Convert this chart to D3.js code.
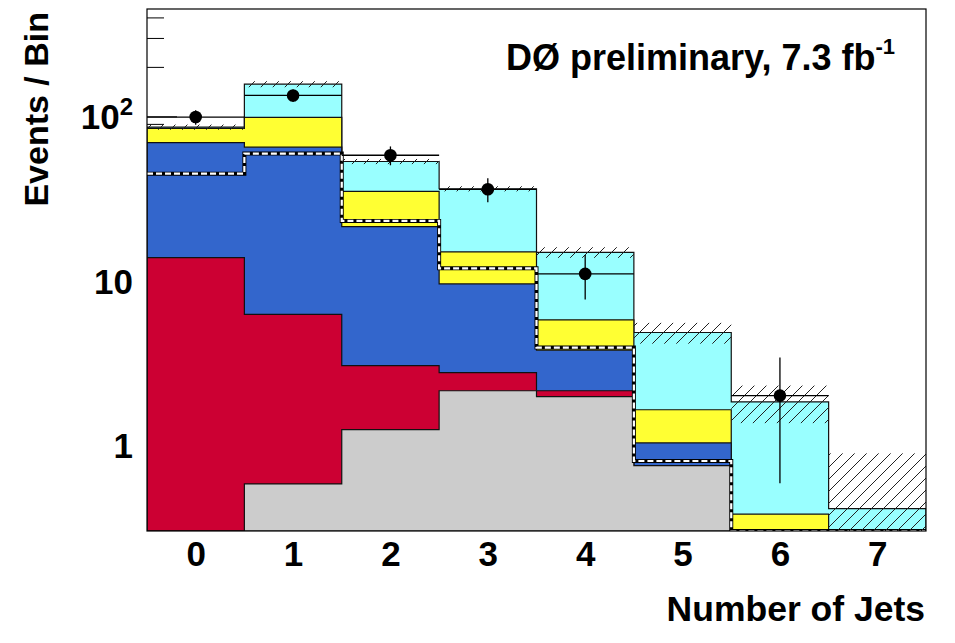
<!DOCTYPE html>
<html>
<head>
<meta charset="utf-8">
<style>
body { margin: 0; background: #fff; }
svg { display: block; font-family: "Liberation Sans", Arial, Helvetica, sans-serif; font-weight: bold; }
</style>
</head>
<body>
<svg width="955" height="643"></svg>
<script src="https://d3js.org/d3.v7.min.js"></script>
<script>
// number of jets (bin centres)
var jetBins = [0, 1, 2, 3, 4, 5, 6, 7];
var jetLabels = ["0", "1", "2", "3", "4", "5", "6", "7"];
// backgrounds, events per bin (stack order bottom -> top)
var grayBkg   = [0, 0.58, 1.24, 2.14, 1.97, 0.75, 0, 0];
var redBkg    = [13.8, 5.66, 1.8, 0.62, 0.17, 0, 0, 0];
var blueBkg   = [55.5, 58.7, 18.3, 6.8, 1.64, 0.28, 0, 0];
var yellowBkg = [15.2, 33.7, 13.6, 5.4, 2.0, 0.61, 0.38, 0];
var cyanBkg   = [1.5, 58.4, 18.2, 21.3, 9.1, 3.2, 1.45, 0.41];
// uncertainty on the total prediction (hatched band)
var totalErr  = [3.1, 6.6, 1.9, 1.3, 1.1, 0.7, 0.47, 0.48];
// dashed outline histogram
var dashedHist = [44.8, 59.4, 23.1, 11.9, 3.92, 0.8, 0, 0];
// observed events
var dataCounts = [99, 134, 58, 36, 11, 0, 2, 0];
// y axis
var yMajorTicks = [1, 10, 100];
var yMinorTicks = [0.4, 0.5, 0.6, 0.7, 0.8, 0.9, 2, 3, 4, 5, 6, 7, 8, 9, 20, 30, 40, 50, 60, 70, 80, 90, 200, 300, 400];

var layerColors = ["#cccccc", "#cc0033", "#3366cc", "#ffff33", "#99ffff"];

var svg = d3.select("svg");
var pL = 147, pR = 926, pT = 9, pB = 531;

var x = d3.scaleLinear().domain([-0.5, 7.5]).range([pL, pR]);
var y = d3.scaleLog().domain([0.3, 450]).range([pB, pT]);
// values below the axis minimum sit on the floor
function yy(v) { return v > 0.3 ? y(Math.min(v, 450)) : pB; }

var defs = svg.append("defs");
defs.append("clipPath").attr("id", "plotclip")
  .append("rect").attr("x", pL).attr("y", pT).attr("width", pR - pL).attr("height", pB - pT);
defs.append("pattern")
    .attr("id", "hatch")
    .attr("patternUnits", "userSpaceOnUse")
    .attr("width", 12).attr("height", 12)
  .append("path")
    .attr("d", "M-3,3 L3,-3 M0,12 L12,0 M9,15 L15,9")
    .attr("stroke", "#222")
    .attr("stroke-width", 1);

// axes first, the histograms cover most of the ticks like in ROOT
svg.append("g")
    .attr("transform", "translate(" + pL + ",0)")
    .call(d3.axisLeft(y).tickValues(yMinorTicks).tickSizeInner(-17).tickSizeOuter(0).tickFormat(""))
    .call(function(g) { g.select(".domain").remove(); g.selectAll("line").attr("stroke", "#000"); });

var yAxis = svg.append("g")
    .attr("transform", "translate(" + pL + ",0)")
    .call(d3.axisLeft(y).tickValues(yMajorTicks).tickSizeInner(-30).tickSizeOuter(0).tickPadding(14)
          .tickFormat(d3.format("d")))
    .call(function(g) { g.select(".domain").remove(); g.selectAll("line").attr("stroke", "#000"); });
yAxis.selectAll(".tick text")
    .attr("font-size", 35)
    .attr("font-family", null)
    .attr("fill", "#000")
    .attr("dy", "0.36em")
    .each(function(d) {
      var t = d3.select(this);
      if (d >= 100) {
        t.text(null);
        t.append("tspan").text("10");
        t.append("tspan").attr("font-size", 24).attr("dy", "-0.62em").text(Math.round(Math.log10(d)));
      }
    });

var xAxis = svg.append("g")
    .attr("transform", "translate(0," + pB + ")")
    .call(d3.axisBottom(x).tickValues(jetBins).tickFormat(function(d, i) { return jetLabels[i]; })
          .tickSizeInner(-15).tickSizeOuter(0).tickPadding(10))
    .call(function(g) { g.select(".domain").remove(); g.selectAll("line").attr("stroke", "#000"); });
xAxis.selectAll(".tick text").attr("font-size", 35).attr("font-family", null).attr("fill", "#000");

// step outline of a histogram, closed along the floor
function stepPoints(vals, fromFloor) {
  var pts = fromFloor ? [[x(-0.5), pB]] : [];
  vals.forEach(function(v, i) {
    pts.push([x(i - 0.5), yy(v)]);
    pts.push([x(i + 0.5), yy(v)]);
  });
  pts.push([x(7.5), pB]);
  return pts;
}
var line = d3.line();

// cumulative stack
var layers = [grayBkg, redBkg, blueBkg, yellowBkg, cyanBkg];
var cumul = [];
layers.forEach(function(l, k) {
  cumul.push(l.map(function(v, i) { return v + (k > 0 ? cumul[k - 1][i] : 0); }));
});

var plot = svg.append("g").attr("clip-path", "url(#plotclip)");

// ROOT draws the biggest (total) first, then each lower sum on top
for (var k = cumul.length - 1; k >= 0; k--) {
  plot.append("path")
      .attr("d", line(stepPoints(cumul[k], true)) + "Z")
      .attr("fill", layerColors[k])
      .attr("stroke", "#111")
      .attr("stroke-width", 1.2);
}

// dashed outline histogram
var dashPts = stepPoints(dashedHist, false);
plot.append("path")
    .attr("d", line(dashPts))
    .attr("fill", "none")
    .attr("stroke", "#000")
    .attr("stroke-width", 4);
plot.append("path")
    .attr("d", line(dashPts))
    .attr("fill", "none")
    .attr("stroke", "#fff")
    .attr("stroke-width", 2.2)
    .attr("stroke-dasharray", "6,3");

// hatched uncertainty band around the total
var total = cumul[cumul.length - 1];
plot.selectAll("rect.band")
  .data(jetBins)
  .enter().append("rect")
    .attr("class", "band")
    .attr("x", function(d) { return x(d - 0.5); })
    .attr("width", function(d) { return x(d + 0.5) - x(d - 0.5); })
    .attr("y", function(d, i) { return yy(total[i] + totalErr[i]); })
    .attr("height", function(d, i) { return yy(total[i] - totalErr[i]) - yy(total[i] + totalErr[i]); })
    .attr("fill", "url(#hatch)");

// data points with sqrt(N) errors and bin-width x errors
var pts = jetBins.map(function(d, i) { return { b: d, n: dataCounts[i] }; })
  .filter(function(p) { return p.n > 0; });
var dp = plot.selectAll("g.data").data(pts).enter().append("g").attr("class", "data");
dp.append("line")
    .attr("x1", function(p) { return x(p.b - 0.5); })
    .attr("x2", function(p) { return x(p.b + 0.5); })
    .attr("y1", function(p) { return yy(p.n); })
    .attr("y2", function(p) { return yy(p.n); })
    .attr("stroke", "#000").attr("stroke-width", 1.3);
dp.append("line")
    .attr("x1", function(p) { return x(p.b); })
    .attr("x2", function(p) { return x(p.b); })
    .attr("y1", function(p) { return yy(p.n + Math.sqrt(p.n)); })
    .attr("y2", function(p) { return yy(p.n - Math.sqrt(p.n)); })
    .attr("stroke", "#000").attr("stroke-width", 1.3);
dp.append("circle")
    .attr("cx", function(p) { return x(p.b); })
    .attr("cy", function(p) { return yy(p.n); })
    .attr("r", 6.3)
    .attr("fill", "#000");

// frame
svg.append("rect")
    .attr("x", pL).attr("y", pT)
    .attr("width", pR - pL).attr("height", pB - pT)
    .attr("fill", "none").attr("stroke", "#000").attr("stroke-width", 1.2);

// titles
svg.append("text")
    .attr("x", 925).attr("y", 621)
    .attr("text-anchor", "end")
    .attr("font-size", 35.5)
    .text("Number of Jets");

svg.append("text")
    .attr("transform", "translate(48,12) rotate(-90)")
    .attr("text-anchor", "end")
    .attr("font-size", 34)
    .text("Events / Bin");

var lbl = svg.append("text")
    .attr("x", 506).attr("y", 70)
    .attr("font-size", 36);
lbl.append("tspan").text("DØ preliminary, 7.3 fb");
lbl.append("tspan").attr("font-size", 22).attr("dy", "-0.75em").text("-1");
</script>
</body>
</html>
